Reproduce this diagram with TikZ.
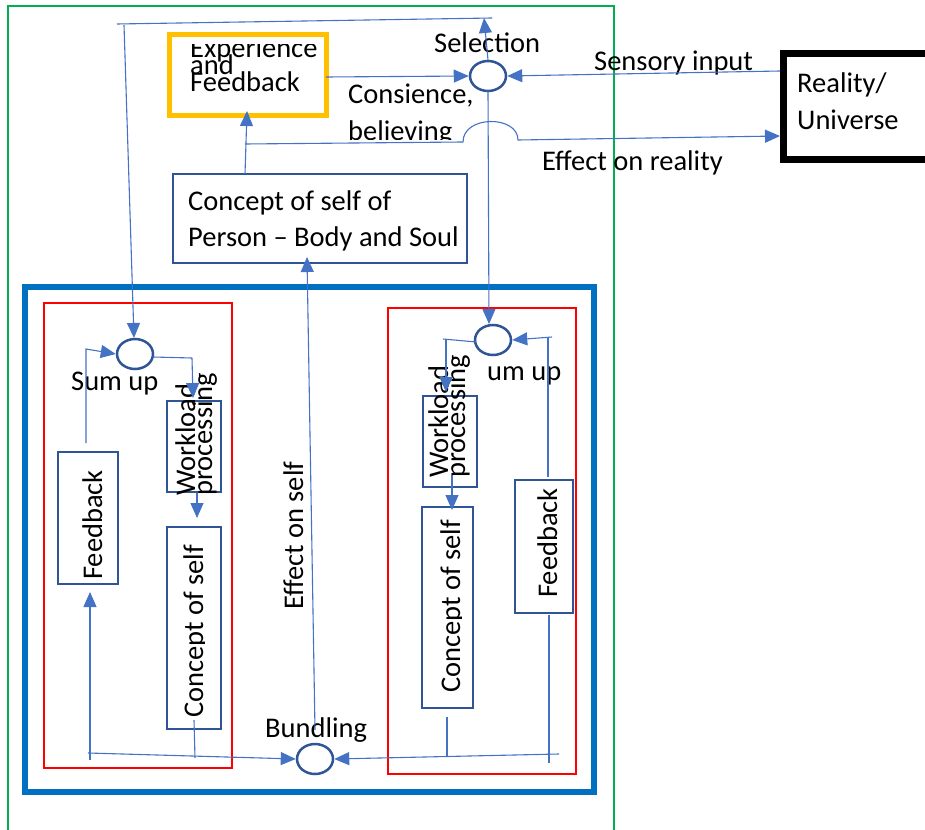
\documentclass[tikz,border=0pt]{standalone}
\usepackage{fontspec}
\setmainfont{Carlito}
\usetikzlibrary{arrows.meta,shapes.geometric}
\definecolor{conncol}{HTML}{4472C4}
\definecolor{darkbl}{HTML}{2F5597}
\definecolor{greenf}{HTML}{00B050}
\definecolor{bluef}{HTML}{0070C0}
\definecolor{redf}{HTML}{FF0000}
\definecolor{yellowf}{HTML}{FFC000}
\tikzset{
  conn/.style={draw=conncol, line width=1.1pt},
  arr/.style={conn, -{Triangle[length=15pt,width=13pt]}},
  bluebox/.style={draw=darkbl, line width=2.5pt, rectangle, inner sep=0pt},
  junction/.style={draw=darkbl, line width=2.5pt, ellipse, inner sep=0pt, minimum width=36pt, minimum height=30pt},
  lbl/.style={anchor=base west, inner sep=0pt, font=\fontsize{28.5}{34}\selectfont},
  vlbl/.style={lbl, rotate=90},
}
\begin{document}
\begin{tikzpicture}[x=1pt,y=-1pt]
\useasboundingbox (0,0) rectangle (925,829);
% frames
\draw[greenf, line width=2pt] (8,840) -- (8,6) -- (614,6) -- (614,840);
\draw[bluef, line width=5.5pt] (25,287) rectangle (594,792);
\draw[redf, line width=2.2pt] (44,303) rectangle (232,768);
\draw[redf, line width=2.2pt] (388,308) rectangle (576,774);
% boxes
\node[draw=yellowf, line width=5pt, rectangle, inner sep=0pt, minimum width=157pt, minimum height=81pt] (exp) at (247.5,75.5) {};
\node[bluebox, minimum width=294pt, minimum height=89pt] (person) at (320,218.5) {};
\node[draw=black, line width=7pt, rectangle, inner sep=0pt, minimum width=156.5pt, minimum height=106pt] (reality) at (861.75,107) {};
\node[bluebox, minimum width=54pt, minimum height=91pt] (wlL) at (194,446.5) {};
\node[bluebox, minimum width=54pt, minimum height=91pt] (wlR) at (450,441.5) {};
\node[bluebox, minimum width=54pt, minimum height=202pt] (csL) at (194,628) {};
\node[bluebox, minimum width=51pt, minimum height=201pt] (csR) at (447.5,607.5) {};
\node[bluebox, minimum width=60pt, minimum height=132pt] (fbL) at (88,518) {};
\node[bluebox, minimum width=58pt, minimum height=133pt] (fbR) at (544,546.5) {};
% junctions
\node[junction] (sel) at (488,76) {};
\node[junction] (sumL) at (135,354) {};
\node[junction] (sumR) at (493,340) {};
\node[junction] (bund) at (315,759) {};
% texts
\begin{scope}
\clip (150,45) rectangle (330,110);
\node[lbl] (t-exp1) at (190,58) {Experience};
\node[lbl] (t-exp2) at (190,75) {and};
\node[lbl] (t-exp3) at (190,92) {Feedback};
\end{scope}
\node[lbl] (t-sel) at (434,53) {Selection};
\node[lbl] (t-sens) at (594,71) {Sensory input};
\node[lbl] (t-real1) at (797,93) {Reality/};
\node[lbl] (t-real2) at (797,130) {Universe};
\node[lbl] (t-cons1) at (348,104) {Consience,};
\begin{scope}
\clip (340,110) rectangle (470,140);
\node[lbl] (t-cons2) at (348,141) {believing};
\end{scope}
\node[lbl] (t-effr) at (542,171) {Effect on reality};
\node[lbl] (t-pers1) at (188,210) {Concept of self of};
\node[lbl] (t-pers2) at (188,246) {Person – Body and Soul};
\node[lbl] (t-sumL) at (71,390) {Sum up};
\node[lbl] (t-sumR) at (487,380) {um up};
\node[lbl] (t-bund) at (265,737) {Bundling};
\node[vlbl] (t-effs) at (303,610) {Effect on self};
\node[vlbl] (t-wlL1) at (195,496) {Workload};
\node[vlbl] (t-wlL2) at (212,496) {processing};
\node[vlbl] (t-wlR1) at (448,478) {Workload};
\node[vlbl] (t-wlR2) at (465,478) {processing};
\node[vlbl] (t-fbL) at (102,580) {Feedback};
\node[vlbl] (t-fbR) at (557,598) {Feedback};
\begin{scope}
\clip (170,530) rectangle (204,726);
\node[vlbl] (t-csL) at (203,718) {Concept of self};
\end{scope}
\begin{scope}
\clip (425,510) rectangle (461,705);
\node[vlbl] (t-csR) at (460,693) {Concept of self};
\end{scope}
% coordinates
\coordinate (topA) at (484,18);
\coordinate (topR) at (492,18);
\coordinate (topL) at (117,24);
\coordinate (vL) at (124,25);
\coordinate (sumLtip) at (134,338);
\coordinate (expS) at (326,77);
\coordinate (realS) at (780,71);
\coordinate (persT) at (245,174);
\coordinate (expB) at (247,111);
\coordinate (consL) at (245,144);
\coordinate (hopL) at (463,142);
\coordinate (hopR) at (518,140);
\coordinate (realE) at (780,136);
\coordinate (selB) at (488,91);
\coordinate (sumRtip) at (489,324);
\coordinate (effB) at (315,730);
\coordinate (effT) at (307,257);
\coordinate (l1) at (153,357);
\coordinate (l2) at (192,358);
\coordinate (l3) at (193,398);
\coordinate (l4) at (197,493);
\coordinate (l5) at (197,518);
\coordinate (l6) at (86,443);
\coordinate (l7) at (86,349);
\coordinate (l8) at (90,760);
\coordinate (l9) at (90,592);
\coordinate (l10) at (88,753);
\coordinate (l11) at (194,720);
\coordinate (l12) at (195,758);
\coordinate (r1) at (476,342);
\coordinate (r2) at (443,339);
\coordinate (r3) at (446,340);
\coordinate (r4) at (446,392);
\coordinate (r5) at (452,475);
\coordinate (r6) at (452,510);
\coordinate (r7) at (548,477);
\coordinate (r8) at (548,337);
\coordinate (r9) at (552,337);
\coordinate (r10) at (549,615);
\coordinate (r11) at (549,763);
\coordinate (r12) at (559,754);
\coordinate (r13) at (447,717);
\coordinate (r14) at (447,757);
% connectors
\draw[arr] (sel.north) -- (topA);
\draw[conn] (topR) -- (topL);
\draw[arr] (vL) -- (sumLtip);
\draw[arr] (expS) -- (sel.west);
\draw[arr] (realS) -- (sel.east);
\draw[arr] (persT) -- (expB);
\draw[arr] (consL) -- (hopL) .. controls (463,115) and (518,115) .. (hopR) -- (realE);
\draw[arr] (selB) -- (sumRtip);
\draw[arr] (effB) -- (effT);
\draw[conn] (l1) -- (l2);
\draw[arr] (l2) -- (l3);
\draw[arr] (l4) -- (l5);
\draw[arr] (l6) -- (l7) -- (sumL.west);
\draw[arr] (l8) -- (l9);
\draw[arr] (l10) -- (bund.west);
\draw[conn] (l11) -- (l12);
\draw[conn] (r1) -- (r2);
\draw[arr] (r3) -- (r4);
\draw[arr] (r5) -- (r6);
\draw[conn] (r7) -- (r8);
\draw[arr] (r9) -- (sumR.east);
\draw[conn] (r10) -- (r11);
\draw[arr] (r12) -- (bund.east);
\draw[conn] (r13) -- (r14);
\end{tikzpicture}
\end{document}
